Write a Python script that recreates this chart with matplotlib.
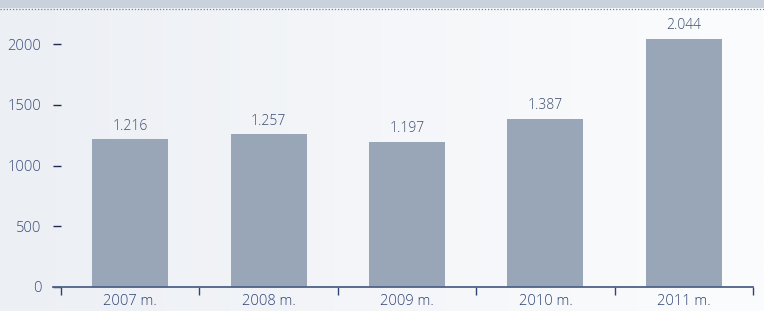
import numpy as np
import matplotlib.pyplot as plt
from matplotlib.patches import Rectangle
from matplotlib.lines import Line2D
from matplotlib.colors import LinearSegmentedColormap

years = ["2007 m.", "2008 m.", "2009 m.", "2010 m.", "2011 m."]
values = [1216, 1257, 1197, 1387, 2044]
value_labels = ["1.216", "1.257", "1.197", "1.387", "2.044"]
yticks = [0, 500, 1000, 1500, 2000]

plt.rcParams['font.family'] = ['Open Sans', 'DejaVu Sans']
plt.rcParams['font.weight'] = 'light'

W, H = 764, 311
fig = plt.figure(figsize=(W / 100, H / 100), dpi=100)

# light background gradient
bg = fig.add_axes([0, 0, 1, 1], zorder=-10)
grad = np.linspace(0, 1, 256).reshape(1, -1)
cmap = LinearSegmentedColormap.from_list("bg", ["#eceff4", "#f4f6f9", "#fbfcfd"])
bg.imshow(grad, aspect="auto", cmap=cmap, extent=[0, 1, 0, 1])
bg.set_xlim(0, 1)
bg.set_ylim(0, 1)
bg.axis("off")

# header band with dotted line
fig.patches.append(Rectangle((0, 1 - 8 / H), 1, 8 / H, transform=fig.transFigure,
                             facecolor="#c9d1dd", edgecolor="none", zorder=-5))
fig.lines.append(Line2D([0, 1], [1 - 8.5 / H, 1 - 8.5 / H], transform=fig.transFigure,
                        color="#6f80a0", lw=0.9, ls=(0, (1, 1.5))))

left, right = 61 / W, 753 / W
bottom = 1 - 287 / H
top = 1 - 20 / H
ax = fig.add_axes([left, bottom, right - left, top - bottom])
ax.patch.set_alpha(0)

x = np.arange(len(years))
ax.bar(x, values, width=0.55, color="#98a6b8", zorder=2)

for xi, v, lab in zip(x, values, value_labels):
    ax.annotate(lab, (xi, v), xytext=(0, 4), textcoords="offset points",
                ha="center", va="bottom", fontsize=10, color="#3d4d70")

ax.set_xlim(-0.5, 4.5)
ax.set_ylim(0, 2200)

for s in ["top", "right", "left", "bottom"]:
    ax.spines[s].set_visible(False)
ax.plot([-0.0116, 1], [0, 0], transform=ax.transAxes, clip_on=False,
        color="#4f6288", lw=1.3, zorder=3)

ax.set_yticks(yticks)
ax.set_yticklabels([str(t) for t in yticks])
ax.tick_params(axis="y", length=6, width=1.0, color="#1d2b55", pad=8,
               labelsize=10.5, labelcolor="#3a4c76", direction="out")

ax.set_xticks(x)
ax.set_xticklabels(years)
ax.set_xticks(np.arange(-0.5, 5, 1), minor=True)
ax.tick_params(axis="x", which="major", length=0, pad=5, labelsize=10.5,
               labelcolor="#2f4374")
ax.tick_params(axis="x", which="minor", length=6, width=1.0, color="#2f4374",
               direction="out")

fig.savefig("out.png", dpi=100)
